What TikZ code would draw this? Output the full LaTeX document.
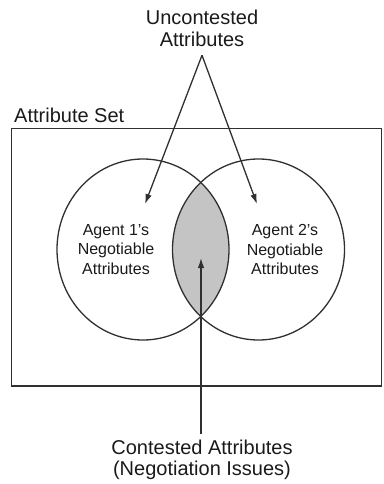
\documentclass[tikz,border=0pt]{standalone}
\usepackage{fontspec}
\setmainfont{Liberation Sans}
\usetikzlibrary{arrows.meta}
\definecolor{ink}{HTML}{303030}
\definecolor{lens}{HTML}{C4C4C4}
\definecolor{txt}{HTML}{1A1A1A}
\begin{document}
\begin{tikzpicture}[x=1pt,y=-1pt,
  line/.style={draw=ink,line width=1.3pt},
  arr/.style={line,-{Latex[length=10pt,width=6.5pt]}},
  bigtxt/.style={font=\fontsize{20}{22.5}\selectfont,align=center,text=txt,inner xsep=0pt,inner ysep=8pt},
  smalltxt/.style={font=\fontsize{16}{19.3}\selectfont,align=center,text=txt,inner sep=0pt}]
\useasboundingbox (0,0) rectangle (383,484);
% attribute set frame
\draw[line] (11.5,128.5) rectangle (381.5,386);
% circle centres
\coordinate (c1) at (143,249.5);
\coordinate (c2) at (258.5,249.5);
% lens
\begin{scope}
  \clip (c1) ellipse [x radius=86, y radius=90.5];
  \fill[lens] (c2) ellipse [x radius=86, y radius=90.5];
\end{scope}
\draw[line] (c1) ellipse [x radius=86, y radius=90.5];
\draw[line] (c2) ellipse [x radius=86, y radius=90.5];
% texts
\node[bigtxt] (unc) at (202,28.5) {Uncontested\\Attributes};
\node[bigtxt,inner sep=0pt,anchor=base west] (set) at (14,122) {Attribute Set};
\node[smalltxt] (ag1) at (116,249.5) {Agent 1's\\Negotiable\\Attributes};
\node[smalltxt] (ag2) at (285,249.5) {Agent 2's\\Negotiable\\Attributes};
\node[bigtxt,font=\fontsize{20}{21}\selectfont,inner ysep=6pt] (con) at (202,460) {Contested Attributes\\(Negotiation Issues)};
% arrows
\coordinate (t1) at (145,204);
\coordinate (t2) at (257,204);
\coordinate (t3) at (201,258);
\draw[arr] (unc.south) -- (t1);
\draw[arr] (unc.south) -- (t2);
\draw[arr] (con.north -| t3) -- (t3);
\end{tikzpicture}
\end{document}
